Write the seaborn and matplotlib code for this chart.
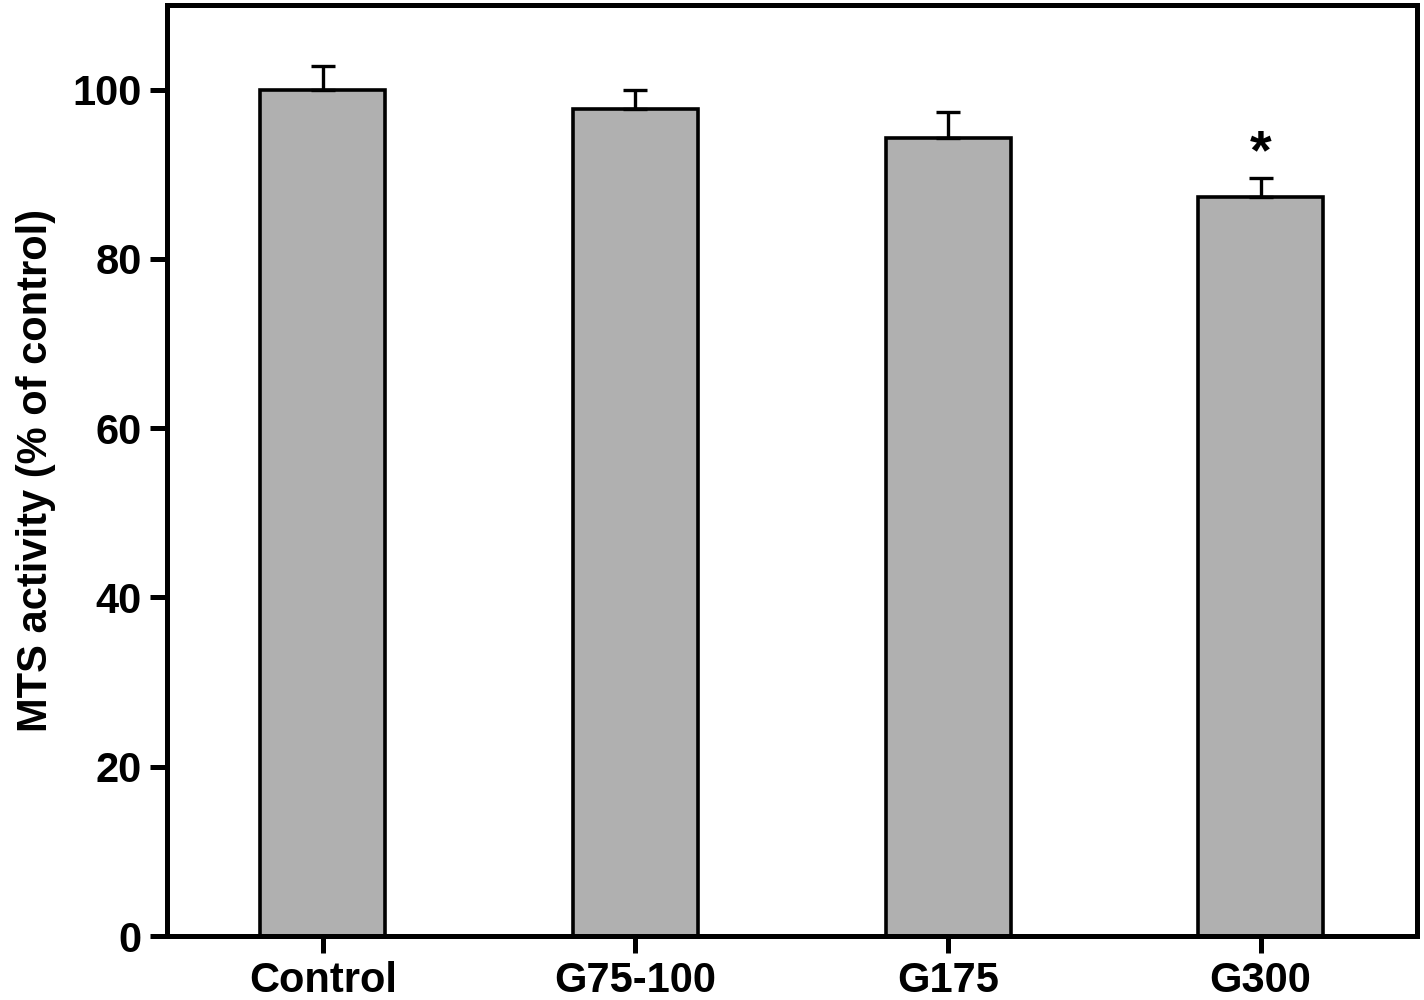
import matplotlib
matplotlib.use('Agg')

import pandas as pd
import matplotlib.pyplot as plt
import seaborn as sns
import numpy as np

groups = ['Control', 'G75-100', 'G175', 'G300']
activity = [100.0, 97.7, 94.3, 87.3]
sem = [2.8, 2.2, 3.1, 2.3]
signif = ['', '', '', '*']

sns.set_style('ticks', {'axes.edgecolor': 'black', 'text.color': 'black',
                        'axes.labelcolor': 'black', 'xtick.color': 'black',
                        'ytick.color': 'black'})
plt.rcParams['font.family'] = ['Liberation Sans', 'DejaVu Sans']
plt.rcParams['font.weight'] = 'bold'

df = pd.DataFrame({'group': groups, 'activity': activity})

fig = plt.figure(figsize=(14.24, 10), dpi=100)
ax = fig.add_axes([0.117, 0.064, 0.878, 0.931])

sns.barplot(data=df, x='group', y='activity', color='#b0b0b0', saturation=1,
            width=0.4, edgecolor='black', linewidth=2.6, errorbar=None, ax=ax)
x = np.arange(len(groups))
ax.errorbar(x, activity, yerr=[np.zeros(len(sem)), sem], fmt='none',
            ecolor='black', elinewidth=2.4, capsize=8.5, capthick=2.4, zorder=3)

# significance mark above the error bar
for i, s in enumerate(signif):
    if s:
        ax.text(x[i], activity[i] + sem[i] - 0.3, s, ha='center', va='bottom',
                fontsize=40, fontweight='bold', color='black')

ax.set_xlim(-0.5, 3.5)
ax.set_ylim(0, 110)
ax.set_yticks([0, 20, 40, 60, 80, 100])
ax.set_xlabel('')
ax.set_ylabel('MTS activity (% of control)', fontsize=30, fontweight='bold', labelpad=12)
for sp in ax.spines.values():
    sp.set_visible(True)
    sp.set_linewidth(3.6)
    sp.set_color('black')
ax.tick_params(axis='both', direction='out', length=12, width=3.6, labelsize=30, pad=6,
               colors='black')
for lab in ax.get_xticklabels() + ax.get_yticklabels():
    lab.set_fontweight('bold')

fig.savefig('out.png', dpi=100)
